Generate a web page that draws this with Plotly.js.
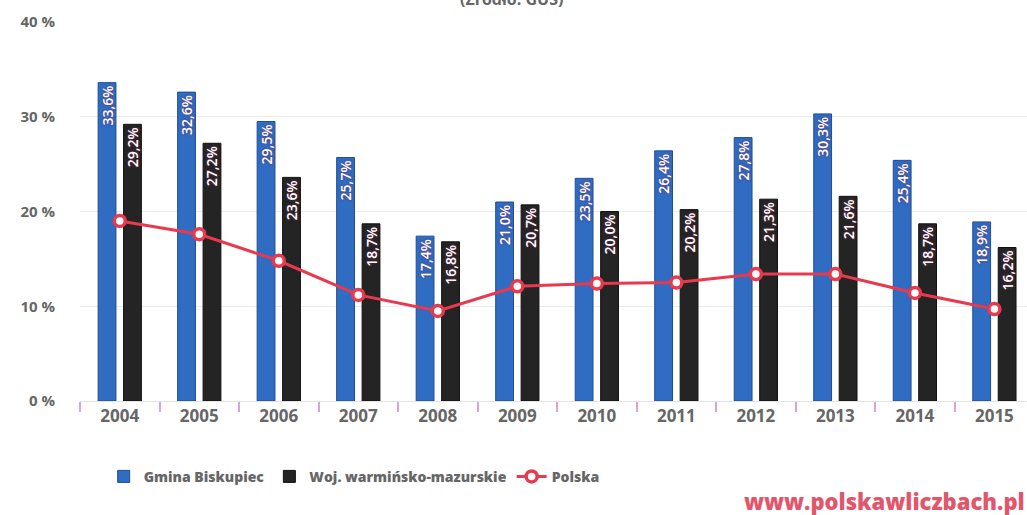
<!DOCTYPE html>
<html><head><meta charset="utf-8">
<script src="https://cdn.plot.ly/plotly-3.0.1.min.js"></script>
<style>html,body{margin:0;padding:0;background:#fff;}#chart{width:1027px;height:515px;}</style>
</head><body><div id="chart"></div>
<script>
const years = ['2004','2005','2006','2007','2008','2009','2010','2011','2012','2013','2014','2015'];
const gmina = [33.6, 32.6, 29.5, 25.7, 17.4, 21.0, 23.5, 26.4, 27.8, 30.3, 25.4, 18.9];
const woj = [29.2, 27.2, 23.6, 18.7, 16.8, 20.7, 20.0, 20.2, 21.3, 21.6, 18.7, 16.2];
const polska = [19.0, 17.6, 14.8, 11.2, 9.5, 12.1, 12.4, 12.5, 13.4, 13.4, 11.4, 9.7];
const seriesNames = ['Gmina Biskupiec', 'Woj. warmińsko-mazurskie', 'Polska'];
const yTicks = [0, 10, 20, 30, 40];
const yTickText = ['0 %', '10 %', '20 %', '30 %', '40 %'];

const fmt = v => v.toFixed(1).replace('.', ',') + '%';
const FONT = 'Open Sans, Noto Sans, sans-serif';
const labelFont = {family: FONT, size: 14, color: '#ffffff', weight: 600, shadow: '0px 0px 3px #7a2a5a'};

const traces = [
  {type:'bar', name: seriesNames[0], x: years, y: gmina, text: gmina.map(fmt),
   textposition:'inside', insidetextanchor:'end', textangle:-90, textfont: labelFont,
   marker:{color:'#2f6cc2', line:{color:'#1d4e96', width:1}}, hoverinfo:'skip', cliponaxis:false},
  {type:'bar', name: seriesNames[1], x: years, y: woj, text: woj.map(fmt),
   textposition:'inside', insidetextanchor:'end', textangle:-90, textfont: labelFont,
   marker:{color:'#242424', line:{color:'#111', width:1}}, hoverinfo:'skip', cliponaxis:false},
  {type:'scatter', mode:'lines+markers', name: seriesNames[2], x: years, y: polska,
   line:{color:'#e8394f', width:3},
   marker:{symbol:'circle', size:11, color:'#ffffff', line:{color:'#e8394f', width:3.5}}, hoverinfo:'skip'}
];

const layout = {
  width:1027, height:515,
  margin:{l:80, r:0, t:22, b:114},
  paper_bgcolor:'#ffffff', plot_bgcolor:'#ffffff',
  barmode:'group', bargap:0.36, bargroupgap:0.3,
  uniformtext:{mode:'show', minsize:14},
  showlegend:true,
  legend:{orientation:'h', x:0.025, xanchor:'left', y:-0.2, yanchor:'middle',
    font:{family:FONT, size:14, color:'#666', weight:800}, itemwidth:30, traceorder:'normal'},
  xaxis:{type:'category', range:[-0.5, 11.41], showgrid:false, zeroline:false,
    ticks:'outside', tickson:'boundaries', ticklen:10, tickcolor:'#d8a6d4', tickwidth:2,
    showline:true, linecolor:'#e4e4e4', linewidth:1,
    tickfont:{family:FONT, size:17, color:'#666', weight:700}},
  yaxis:{range:[0,40], tickvals:yTicks, ticktext:yTickText, showgrid:true, gridcolor:'#ececec',
    zeroline:false, showline:false, ticklabelstandoff:24,
    tickfont:{family:FONT, size:15, color:'#666', weight:700}},
  annotations:[
    {text:'(Źródło: GUS)', xref:'paper', yref:'paper', x:0.456, y:1.06, xanchor:'center', yanchor:'middle',
     showarrow:false, font:{family:FONT, size:16, color:'#666', weight:700}},
    {text:'www.polskawliczbach.pl', xref:'paper', yref:'paper', x:1, y:-0.264, xanchor:'right', yanchor:'middle',
     showarrow:false, font:{family:FONT, size:22, color:'#e2566c', weight:800}}
  ]
};

Plotly.newPlot('chart', traces, layout, {displayModeBar:false, staticPlot:true});
</script></body></html>
